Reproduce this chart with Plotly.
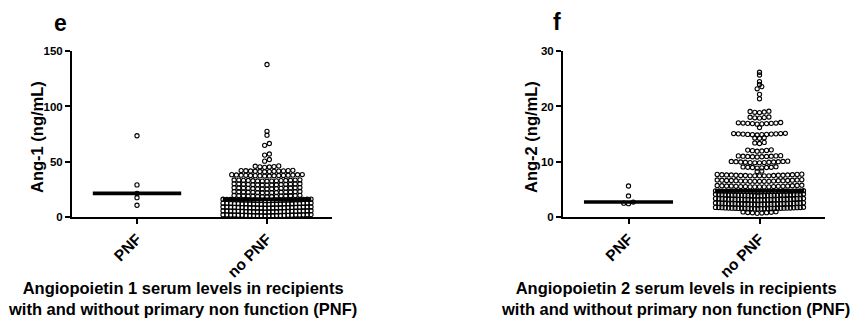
import numpy as np
import plotly.graph_objects as go

W, H = 853, 326

categories = ["PNF", "no PNF"]

ang1_pnf = [73.5, 29.0, 21.3, 17.4, 10.6]
ang1_nopnf = [
    138.0, 77.5, 74.0, 66.5, 64.8, 57.0, 56.0, 52.0, 50.5,
    46.2, 45.9, 45.6, 45.4, 45.2, 44.9,
    42.2, 42.0, 41.9, 41.8, 41.7, 41.6, 41.5, 41.4, 41.3, 41.2, 41.1, 40.9,
    38.4, 38.3, 38.2, 38.0, 37.9, 37.8, 37.8, 37.7, 37.6, 37.5, 37.5, 37.4, 37.3, 37.2, 37.1, 37.0,
    33.6, 33.5, 33.4, 33.3, 33.2, 33.1, 33.0, 33.0, 32.9, 32.8, 32.7, 32.6, 32.5, 32.4, 32.3,
    30.1, 30.0, 29.9, 29.9, 29.7, 29.6, 29.5, 29.5, 29.4, 29.2, 29.2, 29.1, 29.0, 28.9, 28.8,
    26.6, 26.5, 26.4, 26.2, 26.2, 26.1, 26.0, 25.9, 25.9, 25.8, 25.7, 25.5, 25.5, 25.4, 25.3,
    23.1, 23.0, 22.9, 22.8, 22.6, 22.6, 22.5, 22.4, 22.4, 22.3, 22.1, 22.1, 22.0, 21.9, 21.8,
    19.6, 19.5, 19.3, 19.3, 19.2, 19.1, 19.0, 18.9, 18.9, 18.8, 18.7, 18.6, 18.5, 18.4, 18.3,
    16.1, 16.0, 16.0, 15.9, 15.9, 15.8, 15.7, 15.7, 15.6, 15.6, 15.5, 15.5,
    15.4, 15.4, 15.3, 15.3, 15.2, 15.2, 15.1, 15.1, 15.0, 15.0, 14.9, 14.9,
    12.6, 12.5, 12.5, 12.4, 12.4, 12.3, 12.2, 12.2, 12.1, 12.1, 12.0, 12.0,
    11.9, 11.9, 11.8, 11.8, 11.7, 11.7, 11.6, 11.6, 11.5, 11.5, 11.4, 11.4,
    9.1, 9.0, 9.0, 8.9, 8.9, 8.8, 8.8, 8.7, 8.7, 8.6, 8.6, 8.5,
    8.5, 8.4, 8.4, 8.3, 8.3, 8.2, 8.2, 8.1, 8.1, 8.0, 8.0, 7.9,
    5.6, 5.5, 5.5, 5.4, 5.4, 5.3, 5.3, 5.2, 5.2, 5.1, 5.1, 5.0,
    5.0, 4.9, 4.9, 4.8, 4.8, 4.7, 4.7, 4.6, 4.6, 4.5, 4.5, 4.4,
    2.1, 2.0, 2.0, 1.9, 1.9, 1.8, 1.8, 1.7, 1.7, 1.6, 1.6, 1.5,
    1.5, 1.4, 1.4, 1.3, 1.3, 1.2, 1.2, 1.1, 1.1, 1.0, 1.0, 0.9,
]

ang2_pnf = [5.6, 3.8, 2.7, 2.5, 2.4]
ang2_nopnf = [
    26.2, 25.7, 24.5, 24.0, 23.6, 23.2, 22.2, 21.4,
    19.15, 19.1, 19.0, 18.95, 18.9,
    18.1, 18.05, 18.0, 17.95, 17.9,
    17.1, 17.05, 17.0, 17.0, 16.95, 16.95, 16.9, 16.9, 16.85, 16.8,
    16.2,
    15.15, 15.1, 15.1, 15.05, 15.05, 15.0, 15.0, 14.95, 14.95, 14.9, 14.9, 14.85,
    14.35, 14.3, 14.25,
    13.5, 13.4, 13.3,
    12.15, 12.1, 12.05, 12.0, 11.95, 11.9,
    11.1, 11.05, 11.05, 11.0, 11.0, 10.95, 10.95, 10.9, 10.9, 10.85,
    10.1, 10.05, 10.05, 10.0, 10.0, 9.95, 9.95, 9.9, 9.9, 9.85, 9.85, 9.8, 9.8,
    9.1, 9.05, 9.0, 9.0, 8.95, 8.95, 8.9, 8.85,
    8.3, 8.25,
    7.75, 7.7, 7.7, 7.65, 7.65, 7.6, 7.6, 7.6, 7.55, 7.55, 7.55, 7.5, 7.5, 7.5, 7.45, 7.45, 7.45, 7.45, 7.45,
    6.75, 6.7, 6.7, 6.65, 6.65, 6.6, 6.6, 6.6, 6.55, 6.55, 6.55, 6.5, 6.5, 6.5, 6.45, 6.45, 6.45, 6.45, 6.45,
    5.75, 5.7, 5.7, 5.65, 5.65, 5.6, 5.6, 5.6, 5.55, 5.55, 5.55, 5.5, 5.5, 5.5, 5.45, 5.45, 5.45, 5.45, 5.45,
    4.75, 4.72, 4.7, 4.7, 4.7, 4.68, 4.68, 4.67, 4.67, 4.66, 4.66, 4.65, 4.65,
    4.65, 4.63, 4.63, 4.62, 4.62, 4.6, 4.6, 4.6, 4.58, 4.57, 4.55, 4.55, 4.5,
    4.15, 4.12, 4.1, 4.1, 4.08, 4.06, 4.05, 4.04, 4.02, 4.0, 4.0, 3.99, 3.98, 3.97,
    3.96, 3.95, 3.94, 3.93, 3.92, 3.91, 3.9, 3.9, 3.89, 3.88, 3.87, 3.86, 3.86, 3.85,
    3.35, 3.33, 3.3, 3.3, 3.28, 3.27, 3.25, 3.24, 3.22, 3.2, 3.2, 3.19, 3.18, 3.17,
    3.16, 3.15, 3.14, 3.13, 3.12, 3.11, 3.1, 3.1, 3.09, 3.08, 3.07, 3.06, 3.06, 3.05,
    2.55, 2.53, 2.5, 2.5, 2.48, 2.47, 2.45, 2.44, 2.42, 2.4, 2.4, 2.39, 2.38, 2.37,
    2.36, 2.35, 2.34, 2.33, 2.32, 2.31, 2.3, 2.3, 2.29, 2.28, 2.27, 2.26, 2.26, 2.25,
    1.75, 1.73, 1.7, 1.7, 1.68, 1.67, 1.65, 1.64, 1.62, 1.6, 1.6, 1.59, 1.58, 1.57,
    1.56, 1.55, 1.54, 1.53, 1.52, 1.51, 1.5, 1.5, 1.49, 1.48, 1.47, 1.46, 1.46, 1.45,
    0.95, 0.9, 0.85, 0.8, 0.78, 0.75, 0.7, 0.65,
]

y1_ticks = [0, 50, 100, 150]
y2_ticks = [0, 10, 20, 30]

panel_letters = ["e", "f"]
y_titles = ["Ang-1 (ng/mL)", "Ang-2 (ng/mL)"]
x_titles = [
    "Angiopoietin 1 serum levels in recipients<br>with and without primary non function (PNF)",
    "Angiopoietin 2 serum levels in recipients<br>with and without primary non function (PNF)",
]

FONT = "Liberation Sans, Arial, Helvetica, sans-serif"

# layout geometry (pixels)
PLOT_TOP, PLOT_BOT = 47, 219
PANELS = [
    dict(x0=72, x1=332, ymax=150, ticks=y1_ticks, data=[ang1_pnf, ang1_nopnf],
         letter_x=60, letter_y=18, ytitle_x=37, xtitle_x=182),
    dict(x0=563, x1=825, ymax=30, ticks=y2_ticks, data=[ang2_pnf, ang2_nopnf],
         letter_x=557, letter_y=17, ytitle_x=531, xtitle_x=675),
]
XR = [-0.5, 1.5]


def swarm(values, center, px_per_x, px_per_y, dot=4.7, half=44.0, gap=2.5):
    vals = sorted(values)
    rows = []
    for v in vals:
        if rows and (v - rows[-1][0]) * px_per_y <= gap:
            rows[-1].append(v)
        else:
            rows.append([v])
    xs, ys = [], []
    for r in rows:
        n = len(r)
        sp = dot if n <= 1 else min(dot, 2 * half / (n - 1))
        offs = [(i - (n - 1) / 2) * sp for i in range(n)]
        order = sorted(range(n), key=lambda i: abs(offs[i]))
        for v, i in zip(r, order):
            xs.append(center + offs[i] / px_per_x)
            ys.append(v)
    return xs, ys


fig = go.Figure()
annotations = []
layout_axes = {}

for k, p in enumerate(PANELS):
    xa = "x" if k == 0 else "x2"
    ya = "y" if k == 0 else "y2"
    px_per_x = (p["x1"] - p["x0"]) / (XR[1] - XR[0])
    px_per_y = (PLOT_BOT - PLOT_TOP) / p["ymax"]
    for ci, vals in enumerate(p["data"]):
        xs, ys = swarm(vals, ci, px_per_x, px_per_y)
        fig.add_trace(go.Scatter(
            x=xs, y=ys, mode="markers", xaxis=xa, yaxis=ya,
            marker=dict(symbol="circle-open", size=4.2, color="black",
                        line=dict(width=1.1, color="black")),
            cliponaxis=False, showlegend=False, hoverinfo="y"))
    for ci, vals in enumerate(p["data"]):
        med = float(np.median(vals))
        fig.add_trace(go.Scatter(
            x=[ci - 0.34, ci + 0.34], y=[med, med], mode="lines",
            xaxis=xa, yaxis=ya, line=dict(color="black", width=3.6),
            cliponaxis=False, showlegend=False, hoverinfo="skip"))

    sfx = "" if k == 0 else "2"
    layout_axes["xaxis" + sfx] = dict(
        domain=[p["x0"] / W, p["x1"] / W], range=XR, anchor=ya,
        tickmode="array", tickvals=[0, 1], ticktext=categories, tickangle=-45,
        showline=True, linecolor="black", linewidth=2, ticks="outside",
        ticklen=5, tickwidth=1.6, tickcolor="black", showgrid=False, zeroline=False,
        tickfont=dict(family=FONT, size=15.5, color="black", weight="bold"),
        fixedrange=True)
    layout_axes["yaxis" + sfx] = dict(
        domain=[1 - PLOT_BOT / H, 1 - PLOT_TOP / H], range=[0, p["ymax"]], anchor=xa,
        tickmode="array", tickvals=p["ticks"],
        showline=True, linecolor="black", linewidth=2, ticks="outside",
        ticklen=5, tickwidth=1.6, tickcolor="black", showgrid=False, zeroline=False,
        tickfont=dict(family=FONT, size=11.5, color="black", weight="bold"),
        fixedrange=True)

    annotations.append(dict(
        text=panel_letters[k], xref="paper", yref="paper",
        x=p["letter_x"] / W, y=1 - p["letter_y"] / H, xanchor="center", yanchor="middle",
        showarrow=False, font=dict(family=FONT, size=23, color="black", weight="bold")))
    annotations.append(dict(
        text=y_titles[k], xref="paper", yref="paper", textangle=-90,
        x=p["ytitle_x"] / W, y=1 - 136 / H, xanchor="center", yanchor="middle",
        showarrow=False, font=dict(family=FONT, size=16.5, color="black", weight="bold")))
    annotations.append(dict(
        text=x_titles[k], xref="paper", yref="paper", align="center",
        x=p["xtitle_x"] / W, y=1 - 304 / H, xanchor="center", yanchor="middle",
        showarrow=False, font=dict(family=FONT, size=16.5, color="black", weight="bold")))

fig.update_layout(
    width=W, height=H, autosize=False,
    margin=dict(l=0, r=0, t=0, b=0),
    paper_bgcolor="white", plot_bgcolor="white",
    annotations=annotations, **layout_axes)

fig.write_html("out.html", config={"displayModeBar": False})
